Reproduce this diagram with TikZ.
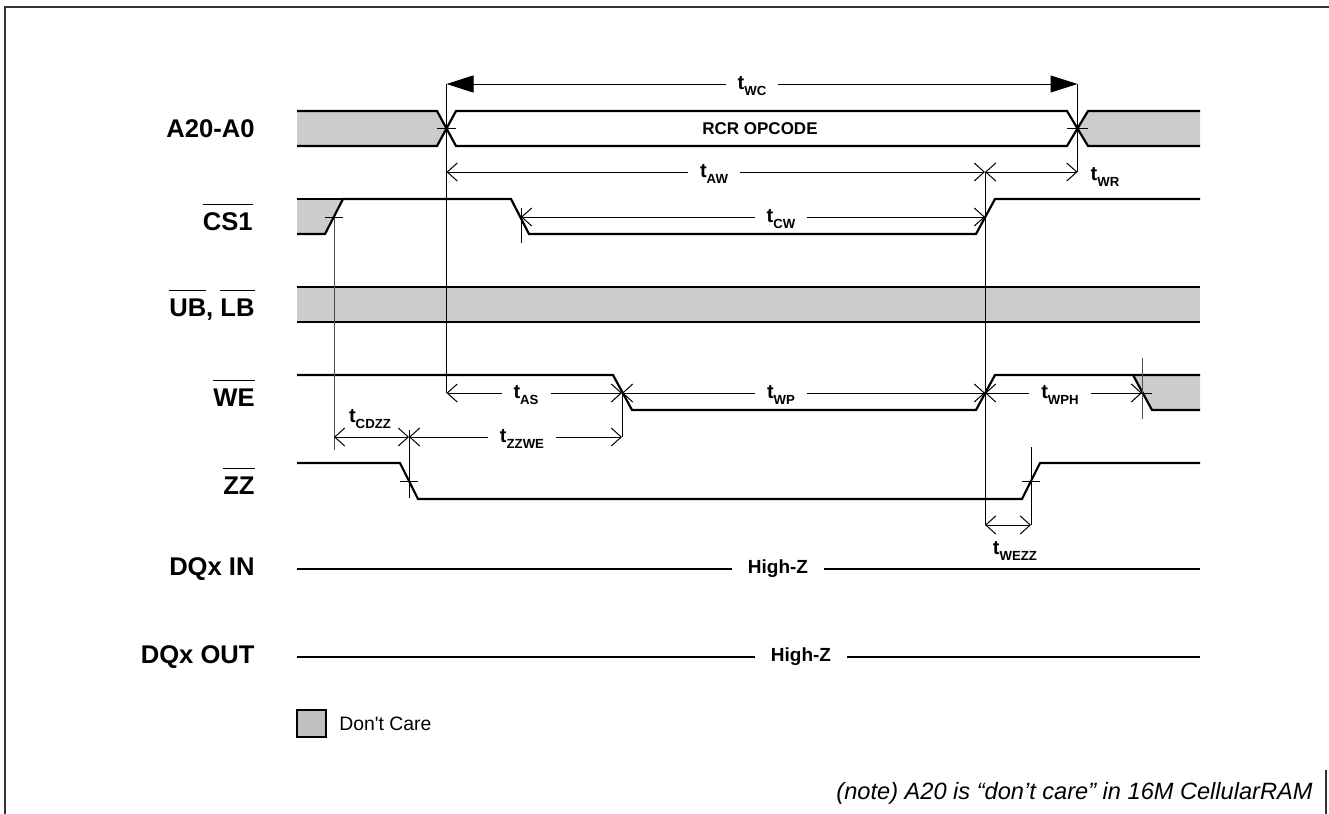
\documentclass[tikz,border=0pt]{standalone}
\usepackage{fontspec}
\setmainfont{Liberation Sans}
\newfontfamily\lgdfont[Ligatures=TeXOff]{Liberation Sans}
\usetikzlibrary{arrows.meta}
\definecolor{dcgray}{RGB}{204,204,204}
\newcommand{\tsub}[1]{t\raisebox{-2.6pt}{\fontsize{6.6}{7}\selectfont #1}}
\newcommand{\ovl}[1]{\setbox0=\hbox{#1}\rlap{\rule[\dimexpr\ht0+3.5pt\relax]{\wd0}{0.7pt}}\box0}
\tikzset{
	sig/.style={line width=1.1pt},
	tline/.style={line width=0.5pt},
	tarr/.style={line width=0.5pt, {Straight Barb[length=5pt,width=9pt]}-{Straight Barb[length=5pt,width=9pt]}},
	wcarr/.style={line width=0.5pt, {Triangle[length=13.5pt,width=8.5pt]}-{Triangle[length=13.5pt,width=8.5pt]}},
	tlbl/.style={fill=white, inner xsep=6pt, inner ysep=1pt, font=\fontsize{10}{11}\selectfont\bfseries},
	siglbl/.style={anchor=east, inner sep=0pt, font=\fontsize{12.8}{14}\selectfont\bfseries},
}

\begin{document}
\begin{tikzpicture}[x=0.5pt, y=-0.5pt]
			%%%%% START %%%%%
			\useasboundingbox (0, 0) rectangle (1329, 814);
			
			\draw[line width=0.7pt, color=black!80] (5, 814) -- (5, 7) -- (1329, 7);
			\draw[line width=0.7pt, color=black!80] (1326, 770) -- (1326, 814);
			
			% signal names
			\node[siglbl] (nA) at (255, 128.5) {A20-A0};
			\node[siglbl] (nCS) at (253, 217) {\ovl{CS1}};
			\node[siglbl] (nUB) at (255, 305) {\ovl{UB}, \ovl{LB}};
			\node[siglbl] (nWE) at (255, 393) {\ovl{WE}};
			\node[siglbl] (nZZ) at (255, 481) {\ovl{ZZ}};
			\node[siglbl] (nIN) at (255, 569) {DQx IN};
			\node[siglbl] (nOUT) at (255, 657) {DQx OUT};
			
			% A20-A0
			\fill[dcgray] (297, 111) -- (437, 111) -- (446.5, 128.5) -- (437, 146) -- (297, 146) -- cycle;
			\fill[dcgray] (1200, 111) -- (1088, 111) -- (1077.5, 128.5) -- (1088, 146) -- (1200, 146) -- cycle;
			\draw[sig] (297, 111) -- (437, 111) -- (456, 146) -- (1067, 146) -- (1088, 111) -- (1200, 111);
			\draw[sig] (297, 146) -- (437, 146) -- (456, 111) -- (1067, 111) -- (1088, 146) -- (1200, 146);
			\node[inner sep=0pt, font=\fontsize{8.5}{10}\selectfont\bfseries] (opc) at (760, 128.5) {RCR OPCODE};
			
			% CS1
			\fill[dcgray] (297, 199) -- (343, 199) -- (325, 234) -- (297, 234) -- cycle;
			\draw[sig] (297, 199) -- (343, 199);
			\draw[sig] (297, 234) -- (325, 234) -- (343, 199) -- (511, 199) -- (529, 234) -- (976, 234) -- (995, 199) -- (1200, 199);
			
			% UB, LB
			\fill[dcgray] (297, 287) rectangle (1200, 322);
			\draw[sig] (297, 287) -- (1200, 287);
			\draw[sig] (297, 322) -- (1200, 322);
			
			% WE
			\fill[dcgray] (1133, 375) -- (1200, 375) -- (1200, 410) -- (1152, 410) -- cycle;
			\draw[sig] (297, 375) -- (613, 375) -- (632, 410) -- (976, 410) -- (995, 375) -- (1200, 375);
			\draw[sig] (1133, 375) -- (1152, 410) -- (1200, 410);
			
			% ZZ
			\draw[sig] (297, 463) -- (400, 463) -- (418, 499) -- (1022, 499) -- (1040, 463) -- (1200, 463);
			
			% DQx
			\draw[sig] (297, 569) -- (1200, 569);
			\draw[sig] (297, 657) -- (1200, 657);
			\node[fill=white, inner xsep=8pt, inner ysep=1pt, font=\fontsize{9.5}{11}\selectfont\bfseries] (hzIN) at (778, 569) {High-Z};
			\node[fill=white, inner xsep=8pt, inner ysep=1pt, font=\fontsize{9.5}{11}\selectfont\bfseries] (hzOUT) at (801, 657) {High-Z};
			
			% reference lines
			\draw[tline] (446.5, 84) -- (446.5, 393);
			\draw[tline] (1077.5, 84) -- (1077.5, 172);
			\draw[tline] (985, 172) -- (985, 525);
			\draw[tline, color=black!70] (334, 217) -- (334, 450);
			\draw[tline] (521, 208) -- (521, 243);
			\draw[tline] (622, 393) -- (622, 437);
			\draw[tline] (409, 430) -- (409, 498);
			\draw[tline] (1031, 447) -- (1031, 525);
			\draw[tline, color=black!70] (1142, 358) -- (1142, 419);
			
			\draw[tline] (437, 128.5) -- (456, 128.5);
			\draw[tline] (1067, 128.5) -- (1088, 128.5);
			\draw[tline] (325, 217) -- (343, 217);
			\draw[tline] (400, 481) -- (418, 481);
			\draw[tline] (1022, 481) -- (1040, 481);
			\draw[tline] (1133, 393) -- (1152, 393);
			
			% timing arrows
			\draw[wcarr] (446.5, 84) -- (1077.5, 84);
			\draw[tarr] (446.5, 172) -- (985, 172);
			\draw[tarr] (985, 172) -- (1077.5, 172);
			\draw[tarr] (521, 217) -- (985, 217);
			\draw[tarr] (446.5, 393) -- (622, 393);
			\draw[tarr] (622, 393) -- (985, 393);
			\draw[tarr] (985, 393) -- (1142, 393);
			\draw[tarr] (334, 437) -- (409, 437);
			\draw[tarr] (409, 437) -- (622, 437);
			\draw[tarr] (985, 525) -- (1031, 525);
			
			\node[tlbl] (lWC) at (752, 86) {\tsub{WC}};
			\node[tlbl] (lAW) at (714, 174) {\tsub{AW}};
			\node[tlbl, fill=none] (lWR) at (1105, 177) {\tsub{WR}};
			\node[tlbl] (lCW) at (781, 219) {\tsub{CW}};
			\node[tlbl] (lAS) at (526, 395) {\tsub{AS}};
			\node[tlbl] (lWP) at (781, 395) {\tsub{WP}};
			\node[tlbl] (lWPH) at (1060, 395) {\tsub{WPH}};
			\node[tlbl, fill=none] (lCDZZ) at (370, 419) {\tsub{CDZZ}};
			\node[tlbl] (lZZWE) at (522, 439) {\tsub{ZZWE}};
			\node[tlbl, fill=none] (lWEZZ) at (1015, 551) {\tsub{WEZZ}};
			
			% legend and note
			\draw[line width=0.9pt, fill=dcgray!94!black] (297, 710) rectangle (326, 737);
			\node[anchor=west, inner sep=0pt, font=\lgdfont\fontsize{9.7}{11}\selectfont] (lgd) at (339, 724) {Don't Care};
			\node[anchor=east, inner sep=0pt, font=\fontsize{11.8}{13}\selectfont\itshape] (note) at (1313, 793) {(note) A20 is “don’t care” in 16M CellularRAM};
			
			%%%%% END %%%%%
\end{tikzpicture}
\end{document}
